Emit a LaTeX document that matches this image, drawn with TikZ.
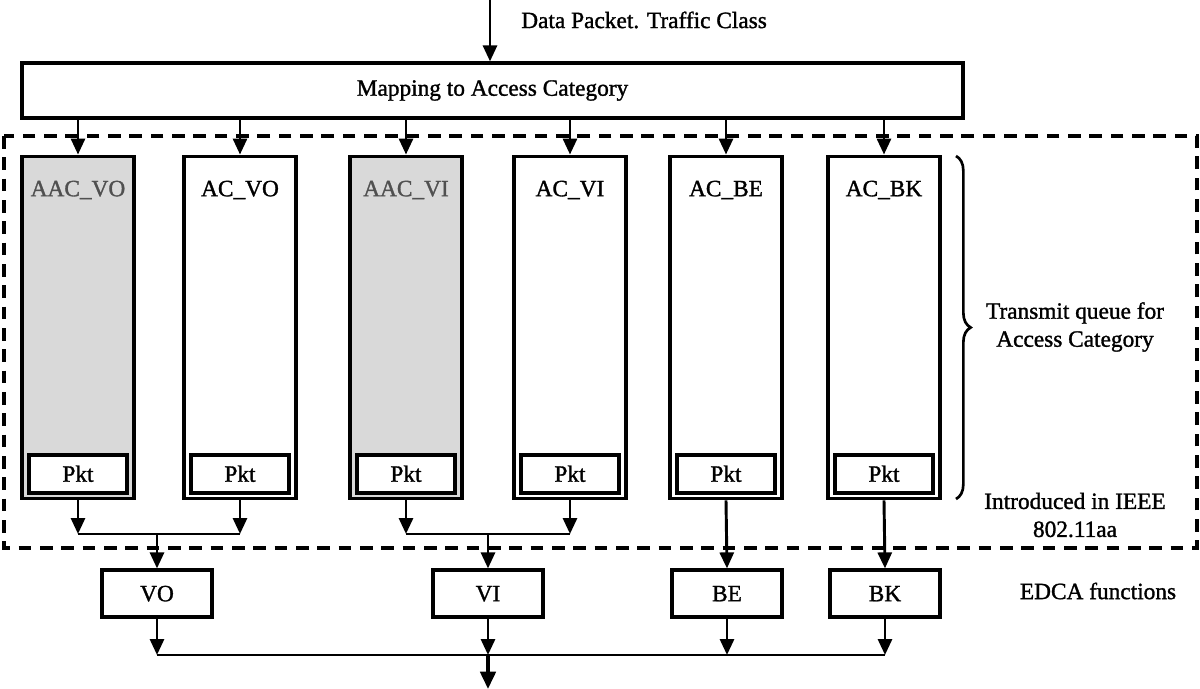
\documentclass[tikz,border=0pt]{standalone}
\usepackage{fontspec}
\setmainfont{Liberation Serif}[BoldFont={Liberation Serif}, BoldFeatures={FakeBold=1.3}]
\usetikzlibrary{arrows.meta,decorations.pathreplacing}
\definecolor{qgray}{HTML}{D9D9D9}
\definecolor{tgray}{HTML}{505050}
\tikzset{
  txt/.style={font=\fontsize{17.5}{21}\selectfont\bfseries},
  lbl/.style={txt, inner sep=0pt},
  box/.style={draw, line width=2.4pt, inner sep=0pt},
  queue/.style={box, minimum width=84pt, minimum height=257pt},
  aqueue/.style={queue, fill=qgray},
  pktbox/.style={box, txt, fill=white, minimum width=73.5pt, minimum height=28.5pt, text height=11.6pt, text depth=0pt},
  edca/.style={box, txt, minimum width=82.5pt, minimum height=35.25pt, text height=11.6pt, text depth=0pt},
  arr/.style={-{Triangle[length=12pt,width=10.5pt]}, line width=2.2pt},
  conn/.style={line width=2.2pt},
}
\begin{document}
\begin{tikzpicture}[x=0.75pt,y=-0.75pt]
\useasboundingbox (0,0) rectangle (1200,689);
% top
\coordinate (in) at (490,0);
\node[lbl, anchor=west] (dp) at (521,20) {Data Packet. Traffic Class};
\node[box, txt, minimum width=705.75pt, minimum height=41.25pt] (map) at (492.5,90.5) {Mapping to Access Category};
\draw[arr] (in) -- (in |- map.north);
% dashed region
\draw[line width=2.4pt, dash pattern=on 9.5pt off 6.5pt] (4,136) rectangle (1197,548);
% queues
\node[aqueue] (q1) at (78,327.5) {};
\node[queue] (q2) at (240,327.5) {};
\node[aqueue] (q3) at (406,327.5) {};
\node[queue] (q4) at (570,327.5) {};
\node[queue] (q5) at (726,327.5) {};
\node[queue] (q6) at (884,327.5) {};
\node[lbl, text=tgray] (l1) at (78,190) {AAC\_VO};
\node[lbl] (l2) at (240,190) {AC\_VO};
\node[lbl, text=tgray] (l3) at (406,190) {AAC\_VI};
\node[lbl] (l4) at (570,190) {AC\_VI};
\node[lbl] (l5) at (726,190) {AC\_BE};
\node[lbl] (l6) at (884,190) {AC\_BK};
\foreach \i/\x in {1/78,2/240,3/406,4/570,5/726,6/884}{
  \node[pktbox] (p\i) at (\x,474) {Pkt};
  \draw[arr] (map.south -| q\i.north) -- (q\i.north);
}
% brace and side texts
\coordinate (bt) at (956,156);
\coordinate (bb) at (956,499);
\draw[line width=2pt, decoration={brace, amplitude=11pt}, decorate] (bt) -- (bb);
\node[lbl, align=center] (tq) at (1075,327) {Transmit queue for\\Access Category};
\node[lbl, align=center] (intro) at (1075,515) {Introduced in IEEE\\802.11aa};
\node[lbl] (ef) at (1098,591) {EDCA functions};
% EDCA boxes
\node[edca] (vo) at (157,593.5) {VO};
\node[edca] (vi) at (488,593.5) {VI};
\node[edca] (be) at (727,593.5) {BE};
\node[edca] (bk) at (885,593.5) {BK};
% merging
\coordinate (j1) at (157,534);
\coordinate (j2) at (488,534);
\draw[arr] (q1.south) -- (q1.south |- j1);
\draw[arr] (q2.south) -- (q2.south |- j1);
\draw[conn] (q1.south |- j1) -- (q2.south |- j1);
\draw[arr] (j1) -- (vo.north);
\draw[arr] (q3.south) -- (q3.south |- j2);
\draw[arr] (q4.south) -- (q4.south |- j2);
\draw[conn] (q3.south |- j2) -- (q4.south |- j2);
\draw[arr] (j2) -- (vi.north);
\draw[arr] (q5.south) -- (be.north);
\draw[arr] (q6.south) -- (bk.north);
% bottom
\coordinate (bj) at (488,655);
\coordinate (out) at (488,689);
\draw[arr] (vo.south) -- (vo.south |- bj);
\draw[arr] (vi.south) -- (vi.south |- bj);
\draw[arr] (be.south) -- (be.south |- bj);
\draw[arr] (bk.south) -- (bk.south |- bj);
\draw[conn] (vo.south |- bj) -- (bk.south |- bj);
\draw[-{Triangle[length=13pt,width=11.5pt]}, line width=2.8pt] (bj) -- (out);
\end{tikzpicture}
\end{document}
